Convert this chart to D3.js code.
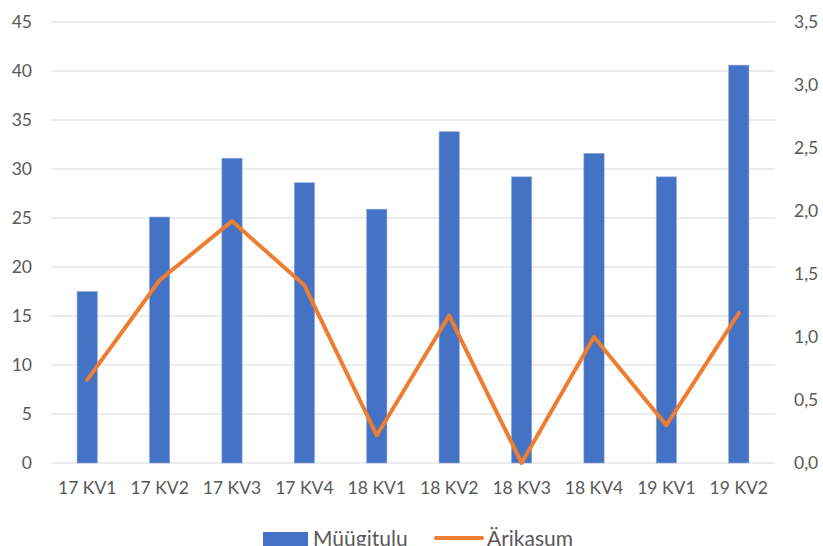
<!DOCTYPE html>
<html>
<head>
<meta charset="utf-8">
<script src="https://cdn.jsdelivr.net/npm/d3@7"></script>
<style>
  body { margin: 0; background: #fff; }
  svg text { font-family: Lato, "Open Sans", sans-serif; fill: #595959; }
</style>
</head>
<body>
<svg width="823" height="546"></svg>
<script>
const categories = ["17 KV1", "17 KV2", "17 KV3", "17 KV4", "18 KV1", "18 KV2", "18 KV3", "18 KV4", "19 KV1", "19 KV2"];
const salesValues = [17.5, 25.1, 31.1, 28.6, 25.9, 33.8, 29.2, 31.6, 29.2, 40.6];
const profitValues = [0.66, 1.45, 1.92, 1.41, 0.22, 1.17, 0.0, 1.0, 0.30, 1.19];
const leftTicks = [0, 5, 10, 15, 20, 25, 30, 35, 40, 45];
const rightTicks = [0, 0.5, 1, 1.5, 2, 2.5, 3, 3.5];

const svg = d3.select("svg");
const margin = { left: 51, right: 48, top: 22, bottom: 83 };
const width = +svg.attr("width");
const height = +svg.attr("height");
const plotRight = width - margin.right;
const plotBottom = height - margin.bottom;

const x = d3.scaleBand()
    .domain(categories)
    .range([margin.left, plotRight])
    .paddingInner(0.72)
    .paddingOuter(0.36);

const xc = d3.scaleBand()
    .domain(categories)
    .range([margin.left, plotRight]);

const yLeft = d3.scaleLinear().domain([0, 45]).range([plotBottom, margin.top]);
const yRight = d3.scaleLinear().domain([0, 3.5]).range([plotBottom, margin.top]);

// gridlines
svg.append("g")
    .selectAll("line")
    .data(leftTicks)
    .join("line")
    .attr("x1", margin.left)
    .attr("x2", plotRight)
    .attr("y1", d => yLeft(d))
    .attr("y2", d => yLeft(d))
    .attr("stroke", "#d9d9d9")
    .attr("stroke-width", 1);

// left axis
const leftAxis = svg.append("g")
    .attr("transform", `translate(${margin.left},0)`)
    .call(d3.axisLeft(yLeft).tickValues(leftTicks).tickSize(0).tickPadding(19));
leftAxis.select(".domain").remove();
leftAxis.selectAll("text").style("font-size", "17.5px").attr("fill", "#595959");

// right axis
const fmt = d => d3.format(".1f")(d).replace(".", ",");
const rightAxis = svg.append("g")
    .attr("transform", `translate(${plotRight},0)`)
    .call(d3.axisRight(yRight).tickValues(rightTicks).tickFormat(fmt).tickSize(0).tickPadding(19));
rightAxis.select(".domain").remove();
rightAxis.selectAll("text").style("font-size", "17.5px").attr("fill", "#595959");

// bars
svg.append("g")
    .selectAll("rect")
    .data(salesValues)
    .join("rect")
    .attr("x", (d, i) => x(categories[i]))
    .attr("y", d => yLeft(d))
    .attr("width", x.bandwidth())
    .attr("height", d => plotBottom - yLeft(d))
    .attr("fill", "#4472C4")
    .attr("stroke", "#8faadc")
    .attr("stroke-width", 0.6);

// bottom axis
const bottomAxis = svg.append("g")
    .attr("transform", `translate(0,${plotBottom})`)
    .call(d3.axisBottom(xc).tickSize(0).tickPadding(19));
bottomAxis.select(".domain").remove();
bottomAxis.selectAll("text").style("font-size", "17.5px").attr("fill", "#595959");

// line
const line = d3.line()
    .x((d, i) => xc(categories[i]) + xc.bandwidth() / 2)
    .y(d => yRight(d));

svg.append("path")
    .datum(profitValues)
    .attr("d", line)
    .attr("fill", "none")
    .attr("stroke", "#ED7D31")
    .attr("stroke-width", 4)
    .attr("stroke-linejoin", "round")
    .attr("stroke-linecap", "round");

// legend
const legend = svg.append("g").attr("transform", "translate(0,538)");
legend.append("rect")
    .attr("x", 263).attr("y", -6)
    .attr("width", 45).attr("height", 14)
    .attr("fill", "#4472C4");
legend.append("text")
    .attr("x", 313).attr("y", 8)
    .style("font-size", "21px")
    .text("Müügitulu");
legend.append("line")
    .attr("x1", 436).attr("x2", 482)
    .attr("y1", 0).attr("y2", 0)
    .attr("stroke", "#ED7D31")
    .attr("stroke-width", 4)
    .attr("stroke-linecap", "round");
legend.append("text")
    .attr("x", 487).attr("y", 8)
    .style("font-size", "21px")
    .text("Ärikasum");
</script>
</body>
</html>
